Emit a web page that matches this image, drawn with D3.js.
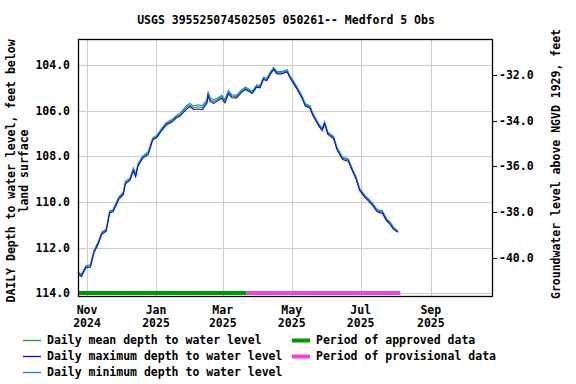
<!DOCTYPE html>
<html>
<head>
<meta charset="utf-8">
<script src="https://cdn.jsdelivr.net/npm/d3@7"></script>
<style>
  html, body { margin: 0; padding: 0; background: #ffffff; }
  svg text { font-family: "DejaVu Sans Mono", "Liberation Mono", monospace; font-weight: bold; font-size: 11.5px; fill: #000; }
</style>
</head>
<body>
<svg id="chart" width="576" height="384"></svg>
<script>
// ---------------- DATA ----------------
const title = "USGS 395525074502505 050261-- Medford 5 Obs";
const dates = ["2024-10-24","2024-10-27","2024-10-31","2024-11-04","2024-11-07","2024-11-11","2024-11-14","2024-11-18","2024-11-21","2024-11-24",
  "2024-11-29","2024-12-03","2024-12-05","2024-12-09","2024-12-12","2024-12-14","2024-12-16","2024-12-20","2024-12-25","2024-12-29",
  "2025-01-02","2025-01-06","2025-01-10","2025-01-15","2025-01-19","2025-01-22","2025-01-28","2025-01-31","2025-02-03","2025-02-07",
  "2025-02-11","2025-02-15","2025-02-16","2025-02-18","2025-02-21","2025-02-25","2025-02-28","2025-03-03","2025-03-06","2025-03-09",
  "2025-03-13","2025-03-17","2025-03-21","2025-03-24","2025-03-27","2025-03-31","2025-04-03","2025-04-06","2025-04-09","2025-04-12",
  "2025-04-15","2025-04-18","2025-04-22","2025-04-27","2025-04-29","2025-05-05","2025-05-10","2025-05-13","2025-05-17","2025-05-20",
  "2025-05-25","2025-05-28","2025-05-30","2025-06-02","2025-06-07","2025-06-10","2025-06-15","2025-06-20","2025-06-23","2025-06-27",
  "2025-06-30","2025-07-05","2025-07-08","2025-07-12","2025-07-15","2025-07-18","2025-07-20","2025-07-24","2025-07-27","2025-07-30","2025-08-03"];
const meanDepth = [113.10,113.22,112.83,112.80,112.18,111.78,111.37,111.23,110.43,110.38,
  109.84,109.62,109.15,109.00,108.57,108.84,108.38,108.04,107.87,107.25,
  107.11,106.82,106.58,106.44,106.26,106.19,105.85,105.75,105.88,105.83,
  105.88,105.60,105.26,105.53,105.60,105.50,105.39,105.58,105.19,105.36,
  105.39,105.17,105.02,105.10,105.20,104.92,104.95,104.58,104.63,104.36,
  104.15,104.34,104.34,104.25,104.48,104.95,105.39,105.75,105.83,106.19,
  106.63,106.82,106.53,106.99,107.17,107.65,108.09,108.16,108.52,108.96,
  109.44,109.77,109.91,110.13,110.35,110.43,110.43,110.79,110.93,111.15,111.30];
const maxDepth = [113.15,113.27,112.88,112.85,112.24,111.83,111.42,111.28,110.48,110.43,
  109.89,109.68,109.20,109.05,108.63,108.90,108.43,108.09,107.93,107.30,
  107.16,106.87,106.63,106.50,106.31,106.25,105.93,105.82,105.95,105.93,
  105.96,105.68,105.36,105.60,105.68,105.56,105.46,105.66,105.26,105.42,
  105.45,105.23,105.07,105.15,105.25,104.97,105.00,104.63,104.68,104.41,
  104.20,104.39,104.39,104.30,104.53,105.00,105.44,105.80,105.88,106.24,
  106.68,106.87,106.58,107.04,107.22,107.70,108.14,108.21,108.57,109.01,
  109.49,109.82,109.96,110.18,110.40,110.48,110.48,110.84,110.98,111.20,111.33];
const minDepth = [113.06,113.18,112.79,112.75,112.13,111.73,111.32,111.18,110.39,110.33,
  109.79,109.57,109.10,108.95,108.51,108.78,108.33,107.99,107.81,107.20,
  107.06,106.77,106.53,106.39,106.21,106.13,105.77,105.68,105.80,105.74,
  105.79,105.52,105.16,105.45,105.52,105.43,105.32,105.50,105.12,105.30,
  105.33,105.11,104.97,105.05,105.15,104.87,104.90,104.53,104.58,104.31,
  104.10,104.29,104.29,104.20,104.43,104.90,105.34,105.70,105.78,106.14,
  106.58,106.77,106.48,106.94,107.12,107.60,108.04,108.11,108.47,108.91,
  109.39,109.72,109.86,110.08,110.30,110.38,110.38,110.74,110.88,111.10,111.27];
const approvedPeriod = ["2024-10-24","2025-03-22"];
const provisionalPeriod = ["2025-03-22","2025-08-05"];
const xTickDates = ["2024-11-01","2025-01-01","2025-03-01","2025-05-01","2025-07-01","2025-09-01"];
const xTickMonths = ["Nov","Jan","Mar","May","Jul","Sep"];
const xTickYears = ["2024","2025","2025","2025","2025","2025"];
const leftTicks = [104,106,108,110,112,114];
const rightTicks = [-32,-34,-36,-38,-40];
const landSurfaceElevation = 72.44;
const legendLines = ["Daily mean depth to water level","Daily maximum depth to water level","Daily minimum depth to water level"];
const legendBars = ["Period of approved data","Period of provisional data"];

// ---------------- LAYOUT ----------------
const L = 78, R = 493, T = 39, B = 296;
const colMean = "#1a9e1a", colMax = "#0c0ce0", colMin = "#1f82c8";
const colApproved = "#009a00", colProv = "#ec44dc";
const parse = d3.utcParse("%Y-%m-%d");

const svg = d3.select("#chart");
const x = d3.scaleUtc().domain([parse("2024-10-24"), parse("2025-10-26")]).range([L, R]);
const y = d3.scaleLinear().domain([102.86, 114.12]).range([T, B]);
const yR = d3.scaleLinear().domain([landSurfaceElevation - 102.86, landSurfaceElevation - 114.12]).range([T, B]);

// gridlines
const grid = svg.append("g");
grid.selectAll("line.v").data(xTickDates).join("line")
  .attr("x1", d => Math.round(x(parse(d))) + 0.5).attr("x2", d => Math.round(x(parse(d))) + 0.5)
  .attr("y1", T).attr("y2", B).attr("stroke", "#cccccc").attr("stroke-width", 1);
grid.selectAll("line.h").data(leftTicks).join("line")
  .attr("x1", L).attr("x2", R)
  .attr("y1", d => Math.round(y(d)) + 0.5).attr("y2", d => Math.round(y(d)) + 0.5)
  .attr("stroke", "#cccccc").attr("stroke-width", 1);

// period bars
const barY = y(114) - 0.3;
svg.append("line").attr("x1", x(parse(approvedPeriod[0]))).attr("x2", x(parse(approvedPeriod[1])))
  .attr("y1", barY).attr("y2", barY).attr("stroke", colApproved).attr("stroke-width", 4);
svg.append("line").attr("x1", x(parse(provisionalPeriod[0]))).attr("x2", x(parse(provisionalPeriod[1])))
  .attr("y1", barY).attr("y2", barY).attr("stroke", colProv).attr("stroke-width", 4);

// data lines
const line = vals => d3.line().x((d, i) => x(parse(dates[i]))).y(d => y(d)).curve(d3.curveLinear)(vals);
svg.append("path").attr("d", line(meanDepth)).attr("fill", "none").attr("stroke", colMean).attr("stroke-width", 1.1);
svg.append("path").attr("d", line(minDepth)).attr("fill", "none").attr("stroke", colMin).attr("stroke-width", 1.1);
svg.append("path").attr("d", line(maxDepth)).attr("fill", "none").attr("stroke", colMax).attr("stroke-width", 1.1);

// frame
svg.append("rect").attr("x", L + 0.5).attr("y", T + 0.5).attr("width", R - L - 1).attr("height", B - T)
  .attr("fill", "none").attr("stroke", "#000").attr("stroke-width", 1.3);

// left axis labels
svg.selectAll("text.yl").data(leftTicks).join("text")
  .attr("x", 70).attr("y", d => y(d) + 4).attr("text-anchor", "end").text(d => d.toFixed(1));
// right axis ticks and labels
svg.selectAll("line.yrt").data(rightTicks).join("line")
  .attr("x1", R).attr("x2", R + 4).attr("y1", d => Math.round(yR(d)) + 0.5).attr("y2", d => Math.round(yR(d)) + 0.5)
  .attr("stroke", "#000").attr("stroke-width", 1);
svg.selectAll("text.yr").data(rightTicks).join("text")
  .attr("x", 499).attr("y", d => yR(d) + 4).attr("text-anchor", "start").text(d => d.toFixed(1));

// x axis labels
svg.selectAll("text.xm").data(xTickDates).join("text")
  .attr("x", d => x(parse(d))).attr("y", 314).attr("text-anchor", "middle").text((d, i) => xTickMonths[i]);
svg.selectAll("text.xy").data(xTickDates).join("text")
  .attr("x", d => x(parse(d))).attr("y", 327).attr("text-anchor", "middle").text((d, i) => xTickYears[i]);

// title
svg.append("text").attr("x", 286).attr("y", 24).attr("text-anchor", "middle").text(title);

// axis titles
svg.append("text").attr("transform", "translate(15,171) rotate(-90)").attr("text-anchor", "middle")
  .text("DAILY Depth to water level, feet below");
svg.append("text").attr("transform", "translate(28,171) rotate(-90)").attr("text-anchor", "middle")
  .text("land surface");
svg.append("text").attr("transform", "translate(560,164) rotate(-90)").attr("text-anchor", "middle")
  .text("Groundwater level above NGVD 1929, feet");

// legend
const lineCols = [colMean, colMax, colMin];
legendLines.forEach((t, i) => {
  const yy = 340 + i * 16;
  svg.append("line").attr("x1", 23).attr("x2", 41).attr("y1", yy + 0.5).attr("y2", yy + 0.5)
    .attr("stroke", lineCols[i]).attr("stroke-width", 1.3);
  svg.append("text").attr("x", 47).attr("y", yy + 4).text(t);
});
const barCols = [colApproved, colProv];
legendBars.forEach((t, i) => {
  const yy = 340 + i * 16;
  svg.append("line").attr("x1", 292).attr("x2", 310).attr("y1", yy + 0.5).attr("y2", yy + 0.5)
    .attr("stroke", barCols[i]).attr("stroke-width", 4);
  svg.append("text").attr("x", 316).attr("y", yy + 4).text(t);
});
</script>
</body>
</html>
